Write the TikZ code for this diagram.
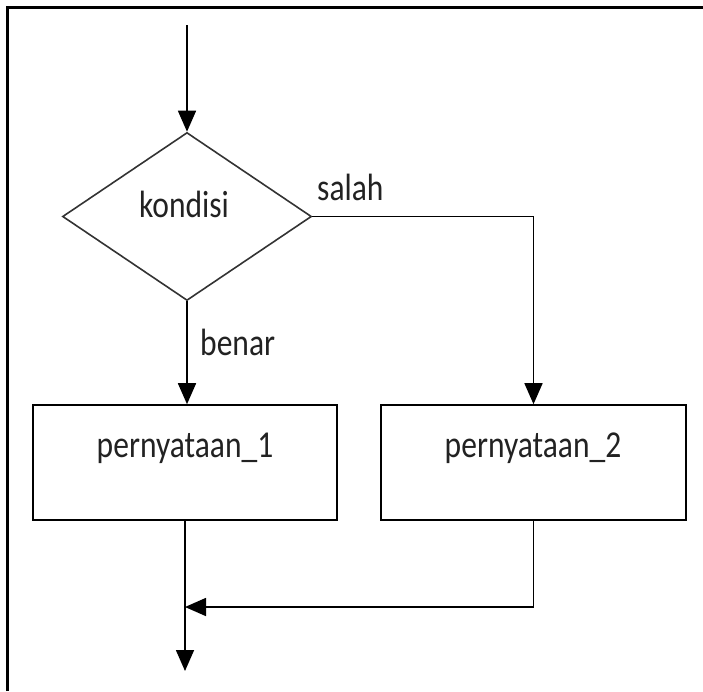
\documentclass[tikz,border=0pt]{standalone}
\usepackage{fontspec}
\setmainfont{Carlito}
\usetikzlibrary{shapes.geometric,arrows.meta}
\definecolor{txt}{HTML}{222222}
\newcommand{\lbl}[1]{\scalebox{0.83}[1]{\fontsize{38}{44}\selectfont #1}}
\tikzset{
  x=1pt, y=1pt,
  conn/.style={line width=1.6pt, draw=black},
  arr/.style={conn, -{Triangle[length=21pt,width=18pt]}},
  decbox/.style={diamond, draw=black!80, line width=1.6pt, minimum width=249pt, minimum height=168pt, inner sep=0pt},
  stmt/.style={rectangle, draw=black, line width=1.6pt, minimum width=304pt, minimum height=115pt, inner sep=0pt},
  txtlbl/.style={inner sep=0pt, text=txt, anchor=base},
}
\begin{document}
\begin{tikzpicture}
\useasboundingbox (0,0) rectangle (703,-691);
% cropped frame
\draw[line width=3pt] (7,-691) -- (7,-7) -- (703,-7);
% shapes
\node[decbox] (dec) at (187,-216.5) {};
\node[stmt] (s1) at (185,-462.5) {};
\node[stmt, minimum width=305pt] (s2) at (533.5,-462.5) {};
% texts
\node[txtlbl] (tk) at (184,-217) {\lbl{kondisi}};
\node[txtlbl] (t1) at (185,-457) {\lbl{pernyataan\_1}};
\node[txtlbl] (t2) at (533,-457) {\lbl{pernyataan\_2}};
\node[txtlbl, anchor=base west] (ts) at (317,-200) {\lbl{salah}};
\node[txtlbl, anchor=base west] (tb) at (200,-355) {\lbl{benar}};
% connectors
\coordinate (start) at (187,-25);
\coordinate (merge) at (185,-607);
\coordinate (endp) at (185,-671);
\draw[arr] (start) -- (dec.north);
\draw[arr] (dec.south) -- (dec.south |- s1.north);
\draw[arr] (dec.east) -| (s2.north);
\draw[conn] (s1.south) -- (merge);
\draw[arr] (merge) -- (endp);
\draw[arr] (s2.south) |- (merge);
\end{tikzpicture}
\end{document}
